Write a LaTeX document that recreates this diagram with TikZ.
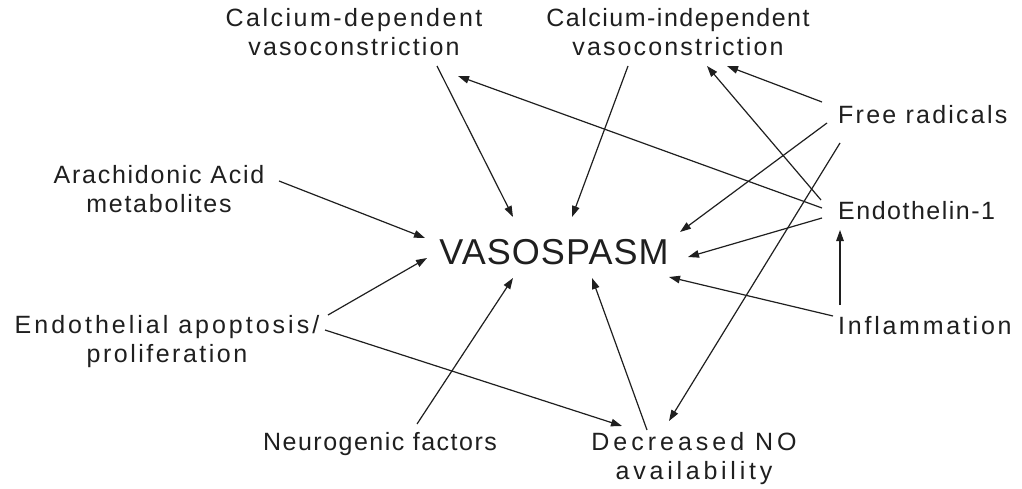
\documentclass[tikz,border=0pt]{standalone}
\usepackage{fontspec}
\setmainfont{Liberation Sans}
\usetikzlibrary{arrows.meta,calc}
\newcommand{\lsp}[2]{{\addfontfeature{LetterSpace=#1}#2}}
\begin{document}
\begin{tikzpicture}[x=1pt,y=-1pt,
  lab/.style={font=\fontsize{25}{29}\selectfont, text=black!88, inner sep=0pt, align=center},
  big/.style={font=\fontsize{36}{40}\selectfont, text=black!88, inner sep=0pt},
  arr/.style={draw=black!88, line width=1.2pt, -{Triangle[length=11pt,width=7.5pt]}}]
\useasboundingbox[fill=white] (0,0) rectangle (1022,489);

\node[lab] (cd) at (354,32.5) {\lsp{10}{Calcium-dependent}\\\lsp{8.5}{vasoconstriction}};
\node[lab] (ci) at (678,32.5) {\lsp{6}{Calcium-independent}\\\lsp{8.5}{vasoconstriction}};
\node[lab] (aa) at (159,189) {\lsp{7}{Arachidonic Acid}\\\lsp{7}{metabolites}};
\node[lab] (ea) at (167,342) {\lsp{12}{Endothelial apoptosis/}\\\lsp{10}{proliferation}};
\node[lab] (nf) at (380,444) {\lsp{6}{Neurogenic factors}};
\node[lab] (dn) at (694,459) {\lsp{16}{Decreased NO}\\\lsp{15}{availability}};
\node[lab, anchor=west] (fr) at (838,115) {\lsp{9}{Free radicals}};
\node[lab, anchor=west] (en) at (838,211) {\lsp{6}{Endothelin-1}};
\node[lab, anchor=west] (in) at (838,326) {\lsp{11}{Inflammation}};
\node[big] (vs) at (554,252) {\lsp{3}{VASOSPASM}};

\draw[arr] ($(cd)+(83,33.5)$) -- ($(vs)+(-41,-35)$);
\draw[arr] ($(ci)+(-50,33.5)$) -- ($(vs)+(18,-35)$);
\draw[arr] ($(aa)+(120,-8)$) -- ($(vs)+(-129,-14)$);
\draw[arr] ($(ea)+(161,-27)$) -- ($(vs)+(-127,6)$);
\draw[arr] ($(ea)+(158,-12)$) -- ($(dn)+(-72,-33)$);
\draw[arr] ($(nf)+(37,-20)$) -- ($(vs)+(-41,26)$);
\draw[arr] ($(dn)+(-47,-29)$) -- ($(vs)+(38,26)$);
\draw[arr] ($(fr.west)+(-11,8)$) -- ($(vs)+(126,-20)$);
\draw[arr] ($(en.west)+(-16,7)$) -- ($(vs)+(134,5)$);
\draw[arr] ($(in.west)+(-5,-10)$) -- ($(vs)+(115,25)$);
\draw[arr] ($(in.west)+(2,-21)$) -- ($(en.west)+(2,19)$);
\draw[arr] ($(fr.west)+(-16,-13)$) -- ($(ci)+(49,33.5)$);
\draw[arr] ($(en.west)+(-17,-11)$) -- ($(ci)+(29,33.5)$);
\draw[arr] ($(en.west)+(-16,-3)$) -- ($(cd)+(104,43.5)$);
\draw[arr] ($(fr.west)+(2,28)$) -- ($(dn)+(-25,-38)$);
\end{tikzpicture}
\end{document}
